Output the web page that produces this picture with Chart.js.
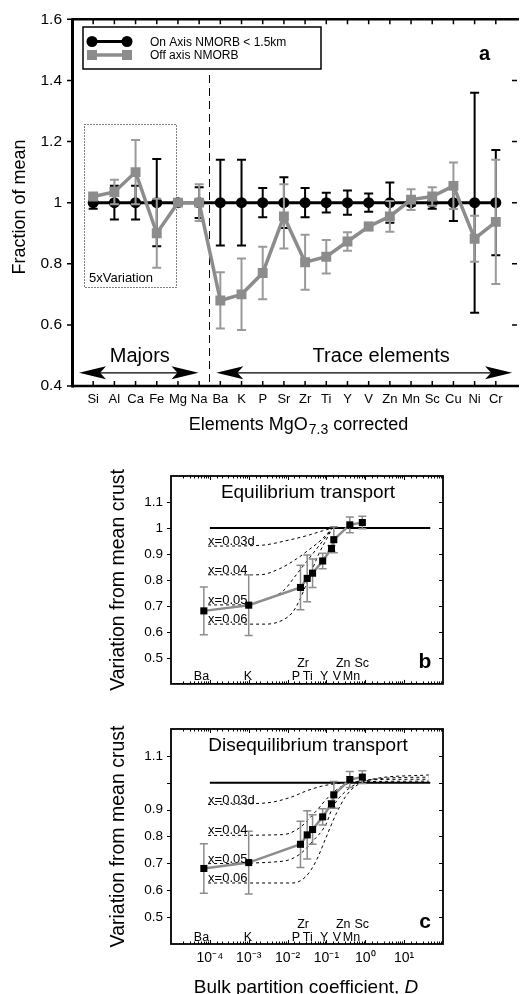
<!DOCTYPE html>
<html>
<head>
<meta charset="utf-8">
<script src="https://cdn.jsdelivr.net/npm/chart.js@4/dist/chart.umd.min.js"></script>
<style>
  html, body { margin: 0; padding: 0; background: #fff; }
  body { position: relative; width: 521px; height: 994px; overflow: hidden; }
  canvas { position: absolute; left: 0; }
</style>
</head>
<body>
<canvas id="chartA" width="524" height="440" style="top:0px"></canvas>
<canvas id="chartB" width="521" height="260" style="top:440px"></canvas>
<canvas id="chartC" width="521" height="294" style="top:700px"></canvas>
<script>
// ---------- panel a : elements, fraction of mean ----------
const categories = ["Si", "Al", "Ca", "Fe", "Mg", "Na", "Ba", "K", "P", "Sr", "Zr", "Ti", "Y", "V", "Zn", "Mn", "Sc", "Cu", "Ni", "Cr"]
const onAxis = [1, 1, 1, 1, 1, 1, 1, 1, 1, 1, 1, 1, 1, 1, 1, 1, 1, 1, 1, 1]
const onAxisErr = [0.02, 0.055, 0.055, 0.143, 0, 0.05, 0.14, 0.14, 0.048, 0.083, 0.048, 0.032, 0.04, 0.03, 0.066, 0.01, 0.02, 0.06, 0.36, 0.172]
const offAxis = [1.02, 1.035, 1.10, 0.90, 1.0, 1.0, 0.68, 0.70, 0.77, 0.955, 0.805, 0.823, 0.873, 0.922, 0.955, 1.01, 1.02, 1.055, 0.882, 0.937]
const offAxisErr = [0.01, 0.04, 0.105, 0.113, 0, 0.06, 0.092, 0.117, 0.086, 0.105, 0.09, 0.055, 0.03, 0.012, 0.05, 0.034, 0.03, 0.076, 0.075, 0.203]
const yTicksA = [0.4, 0.6, 0.8, 1, 1.2, 1.4, 1.6]

// ---------- panels b, c : variation vs bulk partition coefficient ----------
const traceEls = ["Ba", "K", "P", "Zr", "Ti", "Y", "V", "Zn", "Mn", "Sc"]
const traceD = [7e-5, 1e-3, 0.0215, 0.032, 0.044, 0.08, 0.135, 0.155, 0.4, 0.84]
const traceVar = [0.681, 0.703, 0.771, 0.806, 0.826, 0.873, 0.921, 0.955, 1.012, 1.021]
const traceErr = [0.092, 0.117, 0.086, 0.09, 0.055, 0.03, 0.012, 0.05, 0.03, 0.024]
const meanD = [1e-4, 47]
const meanVar = [1, 1]
const curveLabels = ["x=0.03d", "x=0.04", "x=0.05", "x=0.06"]

// equilibrium transport model curves [D, variation]
const eq003 = [[9e-5, 0.93], [1.9e-3, 0.933], [0.0112, 0.954], [0.036, 0.973], [0.079, 0.989], [0.143, 1.0]]
const eq004 = [[9e-5, 0.82], [1.9e-3, 0.82], [6.2e-3, 0.843], [0.0166, 0.88], [0.036, 0.917], [0.073, 0.954], [0.143, 1.0]]
const eq005 = [[9e-5, 0.704], [8.7e-4, 0.704], [2.8e-3, 0.726], [7.6e-3, 0.757], [0.0166, 0.819], [0.0299, 0.868], [0.054, 0.917], [0.098, 0.967], [0.143, 1.0]]
const eq006 = [[9e-5, 0.63], [2.8e-3, 0.63], [7.6e-3, 0.646], [0.0135, 0.676], [0.02, 0.72], [0.0299, 0.781], [0.044, 0.843], [0.066, 0.905], [0.098, 0.954], [0.143, 1.0]]

// disequilibrium transport model curves [D, variation]
const dis003 = [[9e-5, 0.919], [2.8e-3, 0.925], [0.0111, 0.944], [0.0299, 0.969], [0.079, 0.988], [0.316, 1.0], [1.03, 1.004], [43, 1.006]]
const dis004 = [[9e-5, 0.804], [7.5e-3, 0.807], [0.0201, 0.832], [0.0538, 0.894], [0.118, 0.95], [0.258, 0.988], [0.69, 1.006], [2.73, 1.012], [43, 1.013]]
const dis005 = [[9e-5, 0.699], [7.5e-3, 0.708], [0.0201, 0.733], [0.044, 0.782], [0.097, 0.845], [0.143, 0.907], [0.316, 0.969], [0.69, 1.0], [2.73, 1.016], [43, 1.021]]
const dis006 = [[9e-5, 0.627], [0.0135, 0.627], [0.0299, 0.652], [0.0538, 0.708], [0.097, 0.795], [0.175, 0.882], [0.316, 0.95], [0.569, 0.988], [1.52, 1.013], [43, 1.029]]

const xTickValues = [1e-4, 1e-3, 1e-2, 1e-1, 1, 10]
const xTickLabels = ["10\u207B\u2074", "10\u207B\u00B3", "10\u207B\u00B2", "10\u207B\u00B9", "10\u2070", "10\u00B9"]
const yTicksBC = [0.5, 0.6, 0.7, 0.8, 0.9, 1, 1.1]

const FONT = '"Liberation Sans", Arial, Helvetica, sans-serif'
const GRAY = "#8c8c8c"
Chart.defaults.font.family = FONT
Chart.defaults.color = "#000"

// error bars drawn under each dataset, from the dataset's y scale
const errorBars = {
  id: "errorBars",
  beforeDatasetDraw(chart, args) {
    const ds = chart.data.datasets[args.index]
    if (!ds.errors) return
    const ctx = chart.ctx
    const ys = chart.scales.y
    ctx.save()
    ctx.strokeStyle = ds.errorColor
    ctx.lineWidth = ds.errorWidth
    args.meta.data.forEach((pt, i) => {
      const e = ds.errors[i]
      if (!e) return
      const v = ds.data[i].y
      const t = ys.getPixelForValue(v + e)
      const b = ys.getPixelForValue(v - e)
      const c = ds.capWidth / 2
      ctx.beginPath()
      ctx.moveTo(pt.x, t); ctx.lineTo(pt.x, b)
      ctx.moveTo(pt.x - c, t); ctx.lineTo(pt.x + c, t)
      ctx.moveTo(pt.x - c, b); ctx.lineTo(pt.x + c, b)
      ctx.stroke()
    })
    ctx.restore()
  },
}

function arrowHead(ctx, tx, y, dir) {
  const L = 27, H = 6.5
  ctx.beginPath()
  ctx.moveTo(tx, y)
  ctx.lineTo(tx + dir * L, y - H)
  ctx.lineTo(tx + dir * L * 0.78, y)
  ctx.lineTo(tx + dir * L, y + H)
  ctx.closePath()
  ctx.fill()
}

function doubleArrow(ctx, x0, x1, y) {
  ctx.beginPath()
  ctx.lineWidth = 1.2
  ctx.moveTo(x0 + 15, y); ctx.lineTo(x1 - 15, y)
  ctx.stroke()
  arrowHead(ctx, x0, y, 1)
  arrowHead(ctx, x1, y, -1)
}

const panelA = {
  id: "panelA",
  beforeDatasetsDraw(chart) {
    const { ctx, chartArea: a, scales: { x, y } } = chart
    ctx.save()
    ctx.strokeStyle = "#000"
    // 5x variation box
    ctx.lineWidth = 1
    ctx.setLineDash([1, 2])
    const bx0 = Math.round(x.getPixelForValue(-0.45)) + 0.5
    const bx1 = Math.round(x.getPixelForValue(3.93)) + 0.5
    const by0 = Math.round(y.getPixelForValue(1.257)) + 0.5
    const by1 = Math.round(y.getPixelForValue(0.725)) + 0.5
    ctx.strokeRect(bx0, by0, bx1 - bx0, by1 - by0)
    // majors / trace separator
    ctx.setLineDash([8, 5])
    const sx = Math.round(x.getPixelForValue(5.45)) + 0.5
    ctx.beginPath(); ctx.moveTo(sx, 75); ctx.lineTo(sx, a.bottom); ctx.stroke()
    ctx.restore()
  },
  afterDraw(chart) {
    const { ctx, chartArea: a, scales: { x, y } } = chart
    ctx.save()
    ctx.strokeStyle = "#000"
    ctx.fillStyle = "#000"
    // frame
    ctx.lineWidth = 3
    ctx.beginPath(); ctx.moveTo(a.left + 0.5, a.top - 1); ctx.lineTo(a.left + 0.5, a.bottom + 1.5); ctx.stroke()
    ctx.lineWidth = 2.5
    ctx.beginPath(); ctx.moveTo(a.left, a.top); ctx.lineTo(a.right + 2, a.top); ctx.stroke()
    ctx.beginPath(); ctx.moveTo(a.left, a.bottom); ctx.lineTo(a.right + 2, a.bottom); ctx.stroke()
    // ticks
    ctx.lineWidth = 1.5
    ctx.beginPath()
    categories.forEach((c, i) => {
      const px = x.getPixelForValue(i)
      ctx.moveTo(px, a.top); ctx.lineTo(px, a.top + 5)
      ctx.moveTo(px, a.bottom); ctx.lineTo(px, a.bottom - 5)
    })
    yTicksA.forEach(v => {
      const py = y.getPixelForValue(v)
      ctx.moveTo(a.left - 5, py); ctx.lineTo(a.left, py)
      ctx.moveTo(a.right - 5, py); ctx.lineTo(a.right, py)
    })
    ctx.stroke()

    // legend
    ctx.lineWidth = 1.5
    ctx.strokeRect(83, 27, 238, 42)
    ctx.lineWidth = 3
    ctx.beginPath(); ctx.moveTo(92, 41.5); ctx.lineTo(127, 41.5); ctx.stroke()
    ;[92, 127].forEach(px => { ctx.beginPath(); ctx.arc(px, 41.5, 5.5, 0, Math.PI * 2); ctx.fill() })
    ctx.strokeStyle = GRAY; ctx.fillStyle = GRAY; ctx.lineWidth = 3.5
    ctx.beginPath(); ctx.moveTo(92, 55); ctx.lineTo(127, 55); ctx.stroke()
    ;[92, 127].forEach(px => ctx.fillRect(px - 5, 50, 10, 10))
    ctx.fillStyle = "#000"; ctx.strokeStyle = "#000"
    ctx.font = "12px " + FONT
    ctx.textAlign = "left"; ctx.textBaseline = "alphabetic"
    ctx.fillText("On Axis NMORB < 1.5km", 150, 45.5)
    ctx.fillText("Off axis NMORB", 150, 59)

    // panel letter
    ctx.font = "bold 20px " + FONT
    ctx.fillText("a", 479, 60)

    // 5x variation label
    ctx.font = "13px " + FONT
    ctx.fillText("5xVariation", 89, 281.5)

    // majors / trace arrows
    const ay = y.getPixelForValue(0.443)
    doubleArrow(ctx, x.getPixelForValue(-0.67), x.getPixelForValue(4.97), ay)
    doubleArrow(ctx, x.getPixelForValue(5.81), x.getPixelForValue(19.77), ay)
    ctx.font = "20px " + FONT
    ctx.textAlign = "center"
    ctx.fillText("Majors", x.getPixelForValue(2.2), 362)
    ctx.fillText("Trace elements", x.getPixelForValue(13.59), 362)

    // x title with subscript
    const partA = "Elements MgO", sub = "7.3", partB = " corrected"
    ctx.textAlign = "left"
    ctx.font = "18px " + FONT
    const wA = ctx.measureText(partA).width, wB = ctx.measureText(partB).width
    ctx.font = "14px " + FONT
    const wS = ctx.measureText(sub).width
    let tx = 298 - (wA + wS + wB) / 2
    ctx.font = "18px " + FONT
    ctx.fillText(partA, tx, 429.5)
    ctx.font = "14px " + FONT
    ctx.fillText(sub, tx + wA + 1, 434)
    ctx.font = "18px " + FONT
    ctx.fillText(partB, tx + wA + wS + 1, 429.5)

    // y title
    ctx.translate(20, 207)
    ctx.rotate(-Math.PI / 2)
    ctx.textAlign = "center"; ctx.textBaseline = "middle"
    ctx.fillText("Fraction of mean", 0, 0)
    ctx.restore()
  },
}

new Chart(document.getElementById("chartA"), {
  type: "line",
  data: {
    datasets: [
      {
        label: "Off axis NMORB",
        data: categories.map((c, i) => ({ x: i, y: offAxis[i] })),
        borderColor: GRAY,
        borderWidth: 3.5,
        pointStyle: "rect",
        pointRadius: 7,
        pointBackgroundColor: GRAY,
        pointBorderWidth: 0,
        errors: offAxisErr,
        errorColor: "#9a9a9a",
        errorWidth: 2,
        capWidth: 9,
      },
      {
        label: "On Axis NMORB < 1.5km",
        data: categories.map((c, i) => ({ x: i, y: onAxis[i] })),
        borderColor: "#000",
        borderWidth: 3,
        pointStyle: "circle",
        pointRadius: 5.5,
        pointBackgroundColor: "#000",
        pointBorderWidth: 0,
        errors: onAxisErr,
        errorColor: "#000",
        errorWidth: 2,
        capWidth: 9,
      },
    ],
  },
  options: {
    responsive: false,
    animation: false,
    devicePixelRatio: 1,
    events: [],
    layout: { padding: { top: 19, right: 2, left: 0, bottom: 0 } },
    plugins: { legend: { display: false }, tooltip: { enabled: false } },
    scales: {
      x: {
        type: "linear",
        min: -1,
        max: 20,
        grid: { display: false, drawTicks: false },
        border: { display: false },
        ticks: {
          stepSize: 1,
          autoSkip: false,
          maxRotation: 0,
          padding: 6,
          font: { size: 13 },
          callback: (v) => categories[v] ?? "",
        },
        afterFit: (s) => { s.height = 54 },
      },
      y: {
        min: 0.4,
        max: 1.6,
        grid: { display: false, drawTicks: false },
        border: { display: false },
        ticks: {
          stepSize: 0.2,
          padding: 10,
          font: { size: 15.5 },
          callback: (v) => String(+v.toFixed(1)),
        },
        afterFit: (s) => { s.width = 72 },
      },
    },
  },
  plugins: [errorBars, panelA],
})

// label anchors for element names along the bottom of panels b and c
const elementTags = [
  ["Ba", 6.1e-5, 0], ["K", 9.6e-4, 0], ["P", 0.0165, 0], ["Ti", 0.033, 0], ["Y", 0.087, 0],
  ["V", 0.185, 0], ["Mn", 0.44, 0], ["Zr", 0.025, 1], ["Zn", 0.27, 1], ["Sc", 0.81, 1],
]

function transportChart(canvasId, cfg) {
  const annot = {
    id: "transport",
    afterDraw(chart) {
      const { ctx, chartArea: a, scales: { x, y } } = chart
      ctx.save()
      ctx.strokeStyle = "#000"
      ctx.fillStyle = "#000"
      ctx.lineWidth = 1.8
      ctx.strokeRect(a.left, a.top, a.right - a.left, a.bottom - a.top)
      // ticks
      ctx.lineWidth = 1
      ctx.beginPath()
      x.ticks.forEach(t => {
        const px = Math.round(x.getPixelForValue(t.value)) + 0.5
        if (px <= a.left + 1 || px >= a.right - 1) return
        const lg = Math.log10(t.value)
        const len = Math.abs(lg - Math.round(lg)) < 1e-6 ? 4 : 2.5
        ctx.moveTo(px, a.bottom); ctx.lineTo(px, a.bottom - len)
        ctx.moveTo(px, a.top); ctx.lineTo(px, a.top + len)
      })
      yTicksBC.forEach(v => {
        const py = Math.round(y.getPixelForValue(v)) + 0.5
        ctx.moveTo(a.left - 4, py); ctx.lineTo(a.left, py)
        ctx.moveTo(a.right - 4, py); ctx.lineTo(a.right, py)
      })
      ctx.stroke()

      // title
      ctx.font = "19px " + FONT
      ctx.textAlign = "center"; ctx.textBaseline = "alphabetic"
      ctx.fillText(cfg.title, 308, a.top + 22)
      // panel letter
      ctx.font = "bold 21px " + FONT
      ctx.fillText(cfg.letter, a.right - 18, a.bottom - 16)
      // curve labels
      ctx.font = "13px " + FONT
      ctx.textAlign = "left"
      cfg.curves.forEach((c, i) => {
        ctx.fillText(curveLabels[i], x.getPixelForValue(c[0][0]), y.getPixelForValue(c[0][1]) - 1)
      })
      // element names
      ctx.font = "12.5px " + FONT
      ctx.textAlign = "center"
      elementTags.forEach(([t, d, row]) => {
        ctx.fillText(t, x.getPixelForValue(d), a.bottom - (row ? 16.5 : 3.5))
      })
      // x title
      if (cfg.xTitle) {
        ctx.font = "19px " + FONT
        const s1 = "Bulk partition coefficient, "
        const w1 = ctx.measureText(s1).width
        ctx.font = "italic 19px " + FONT
        const w2 = ctx.measureText("D").width
        const sx = 306 - (w1 + w2) / 2
        ctx.textAlign = "left"
        ctx.font = "19px " + FONT
        ctx.fillText(s1, sx, cfg.xTitleY)
        ctx.font = "italic 19px " + FONT
        ctx.fillText("D", sx + w1, cfg.xTitleY)
      }
      // y title
      ctx.font = "19.5px " + FONT
      ctx.translate(119, (a.top + a.bottom) / 2)
      ctx.rotate(-Math.PI / 2)
      ctx.textAlign = "center"; ctx.textBaseline = "middle"
      ctx.fillText("Variation from mean crust", 0, 0)
      ctx.restore()
    },
  }

  const curveStyle = {
    borderColor: "#000",
    borderWidth: 1,
    borderDash: [3, 3],
    pointRadius: 0,
    cubicInterpolationMode: "monotone",
  }

  return new Chart(document.getElementById(canvasId), {
    type: "line",
    data: {
      datasets: [
        {
          label: "Observed",
          data: traceD.map((d, i) => ({ x: d, y: traceVar[i] })),
          borderColor: GRAY,
          borderWidth: 2.5,
          pointStyle: "rect",
          pointRadius: 5,
          pointBackgroundColor: "#000",
          pointBorderWidth: 0,
          errors: traceErr,
          errorColor: GRAY,
          errorWidth: 1.5,
          capWidth: 8,
        },
        {
          label: "Mean crust",
          data: meanD.map((d, i) => ({ x: d, y: meanVar[i] })),
          borderColor: "#000",
          borderWidth: 2,
          pointRadius: 0,
        },
        ...cfg.curves.map((c, i) => ({
          label: curveLabels[i],
          data: c.map(([d, v]) => ({ x: d, y: v })),
          ...curveStyle,
        })),
      ],
    },
    options: {
      responsive: false,
      animation: false,
      devicePixelRatio: 1,
      events: [],
      layout: { padding: { top: cfg.top, right: 78, left: 0, bottom: 0 } },
      plugins: { legend: { display: false }, tooltip: { enabled: false } },
      scales: {
        x: {
          type: "logarithmic",
          min: 1e-5,
          max: 100,
          grid: { display: false, drawTicks: false },
          border: { display: false },
          ticks: {
            display: cfg.showX,
            autoSkip: false,
            maxRotation: 0,
            padding: 5.6,
            font: { size: 14 },
            callback: (v) => {
              const i = xTickValues.findIndex(t => Math.abs(t - v) / t < 1e-6)
              return i >= 0 ? xTickLabels[i] : ""
            },
          },
          afterFit: (s) => { s.height = cfg.xHeight },
        },
        y: {
          min: 0.4,
          max: 1.2,
          grid: { display: false, drawTicks: false },
          border: { display: false },
          ticks: {
            stepSize: 0.1,
            padding: 8,
            font: { size: 13.5 },
            callback: (v) => {
              const r = +v.toFixed(1)
              if (!yTicksBC.includes(r)) return ""
              if (cfg.hideOne && r === 1) return ""
              return String(r)
            },
          },
          afterFit: (s) => { s.width = 171 },
        },
      },
    },
    plugins: [errorBars, annot],
  })
}

transportChart("chartB", {
  title: "Equilibrium transport",
  letter: "b",
  curves: [eq003, eq004, eq005, eq006],
  top: 36,
  xHeight: 10,
  showX: false,
  hideOne: false,
})

transportChart("chartC", {
  title: "Disequilibrium transport",
  letter: "c",
  curves: [dis003, dis004, dis005, dis006],
  top: 29,
  xHeight: 50,
  showX: true,
  hideOne: true,
  xTitle: true,
  xTitleY: 292.5,
})
</script>
</body>
</html>
